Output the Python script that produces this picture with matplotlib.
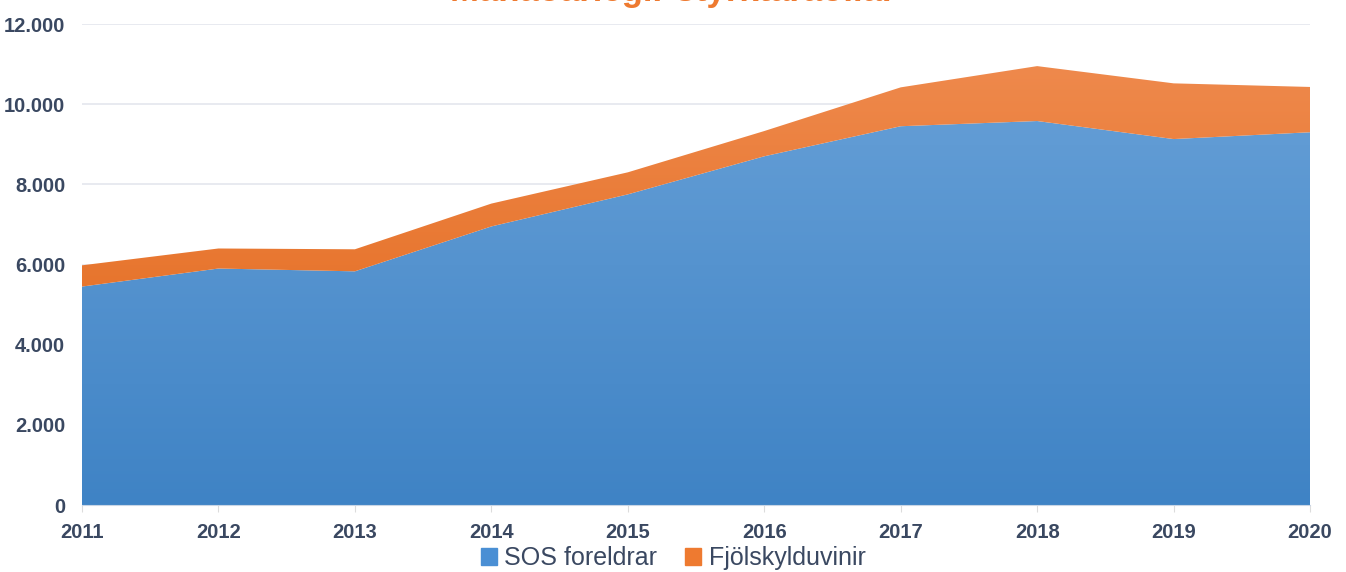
import numpy as np
import matplotlib.pyplot as plt
from matplotlib.colors import LinearSegmentedColormap
from matplotlib.ticker import FuncFormatter

plt.rcParams['font.family'] = ['Liberation Sans', 'DejaVu Sans']

# gögn lesin af myndinni
years = [2011, 2012, 2013, 2014, 2015, 2016, 2017, 2018, 2019, 2020]
sos = [5450, 5900, 5830, 6950, 7750, 8700, 9450, 9580, 9130, 9300]
fjol = [530, 500, 550, 570, 550, 630, 970, 1370, 1390, 1130]
labels = ["SOS foreldrar", "Fjölskylduvinir"]
title = "Mánaðarlegir styrktaraðilar"

text_col = '#3a4861'
ymax = 12000

fig = plt.figure(figsize=(13.46, 5.72), dpi=100)
ax = fig.add_axes([0.0609, 0.1171, 0.9124, 0.8409])

x = np.array(years)
s1 = np.array(sos)
s2 = s1 + np.array(fjol)

def gradient_fill(y0, y1, c_top, c_bot):
    poly = ax.fill_between(x, y0, y1, color='none', lw=0)
    cmap = LinearSegmentedColormap.from_list('g', [c_bot, c_top])
    grad = np.linspace(0, 1, 256).reshape(-1, 1)
    im = ax.imshow(grad, cmap=cmap, aspect='auto', origin='lower',
                   extent=[x[0], x[-1], 0, ymax], zorder=2)
    im.set_clip_path(poly.get_paths()[0], transform=ax.transData)

gradient_fill(0, s1, '#6ba3d9', '#3f83c5')
gradient_fill(s1, s2, '#f08d52', '#e0610f')

ax.set_xlim(x[0], x[-1])
ax.set_ylim(0, ymax)
ax.set_yticks(range(0, ymax + 1, 2000))
ax.yaxis.set_major_formatter(FuncFormatter(lambda v, p: f"{int(v):,}".replace(",", ".")))
ax.set_xticks(years)
ax.grid(axis='y', color='#e4e6ee', lw=1.2, zorder=0)
for sp in ['top', 'right', 'left']:
    ax.spines[sp].set_visible(False)
ax.spines['bottom'].set_color('#c9d6e6')
ax.tick_params(axis='y', length=0, pad=12, labelsize=14.5, labelcolor=text_col)
ax.tick_params(axis='x', length=5, color='#dcdcdc', pad=8, labelsize=14.5, labelcolor=text_col)
for t in ax.get_xticklabels() + ax.get_yticklabels():
    t.set_fontweight('bold')

h = [plt.Rectangle((0, 0), 1, 1, color='#4a8fd4'), plt.Rectangle((0, 0), 1, 1, color='#ee7a30')]
leg = fig.legend(h, labels, loc='center', bbox_to_anchor=(0.5, 0.024), ncol=2, frameon=False,
                 fontsize=18, handlelength=0.65, handleheight=0.65, handletextpad=0.3,
                 columnspacing=1.1, labelcolor=text_col)

fig.text(0.5, 0.9975, title, ha='center', va='baseline', fontsize=25,
         fontweight='bold', color='#ee7a30')

fig.savefig('out.png', dpi=100)
